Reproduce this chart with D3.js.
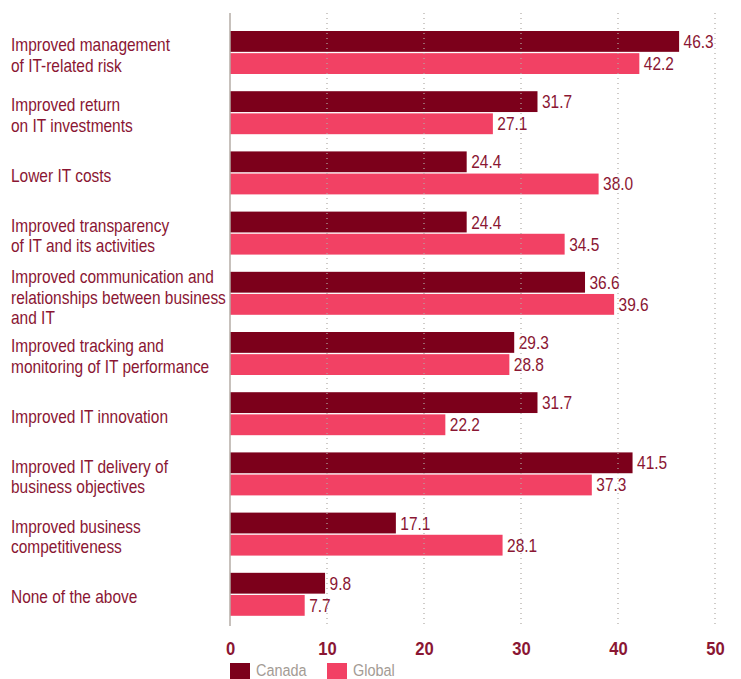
<!DOCTYPE html>
<html><head><meta charset="utf-8">
<script src="https://cdn.jsdelivr.net/npm/d3@7"></script>
<style>body{margin:0;background:#fff}svg{display:block}</style>
</head><body><svg id="c" width="741" height="679"></svg>
<script>
const categories = [
  ["Improved management","of IT-related risk"],
  ["Improved return","on IT investments"],
  ["Lower IT costs"],
  ["Improved transparency","of IT and its activities"],
  ["Improved communication and","relationships between business","and IT"],
  ["Improved tracking and","monitoring of IT performance"],
  ["Improved IT innovation"],
  ["Improved IT delivery of","business objectives"],
  ["Improved business","competitiveness"],
  ["None of the above"]
];
const seriesNames = ["Canada","Global"];
const canada = [46.3,31.7,24.4,24.4,36.6,29.3,31.7,41.5,17.1,9.8];
const global = [42.2,27.1,38.0,34.5,39.6,28.8,22.2,37.3,28.1,7.7];
const xTicks = [0,10,20,30,40,50];

const colors = {Canada:"#7c001b", Global:"#f24164"};
const textColor = "#8a1633";
const font = "'Liberation Sans',Arial,sans-serif";

const svg = d3.select("#c");
const x = d3.scaleLinear().domain([0,50]).range([230,715]);
const keys = categories.map((c,i)=>i);
const y = d3.scaleBand().domain(keys).range([22.4,624.4]).paddingInner(0.286).paddingOuter(0.143);
const ys = d3.scaleBand().domain(seriesNames).range([0,y.bandwidth()]).paddingInner(0.06);

const data = keys.map(i=>({i, vals:[{s:"Canada",v:canada[i]},{s:"Global",v:global[i]}]}));

const grp = svg.append("g").selectAll("g.grp").data(data).join("g").attr("transform",d=>`translate(0,${y(d.i)})`);
grp.selectAll("rect").data(d=>d.vals).join("rect")
  .attr("x",x(0)).attr("y",d=>ys(d.s)).attr("height",ys.bandwidth())
  .attr("width",d=>x(d.v)-x(0)).attr("fill",d=>colors[d.s]);
grp.selectAll("text.val").data(d=>d.vals).join("text").attr("class","val")
  .attr("transform",d=>`translate(${x(d.v)+4.5},${ys(d.s)+ys.bandwidth()/2}) scale(0.86,1)`)
  .attr("dy","0.36em")
  .attr("font-family",font).attr("font-size",18).attr("fill",textColor)
  .text(d=>d.v.toFixed(1));

// gridlines (over bars)
svg.append("g").selectAll("line").data(xTicks.slice(1)).join("line")
  .attr("x1",d=>x(d)).attr("x2",d=>x(d)).attr("y1",13).attr("y2",626)
  .attr("stroke","#b0aaa4").attr("stroke-width",1.2).attr("stroke-dasharray","1,4");

// axis line
svg.append("line").attr("x1",x(0)).attr("x2",x(0)).attr("y1",13).attr("y2",626)
  .attr("stroke","#b4aca6").attr("stroke-width",1.5);

// x axis labels
const xAxis = d3.axisBottom(x).tickValues(xTicks).tickSize(0).tickPadding(0);
const ax = svg.append("g").attr("transform","translate(0,655)").call(xAxis);
ax.select(".domain").remove();
ax.selectAll("text").attr("font-family",font).attr("font-size",17.5).attr("font-weight","bold")
  .attr("fill",textColor).attr("dy","0").attr("y",0).attr("transform","scale(0.95,1)");

// category labels
const lh = 20.5;
svg.append("g").attr("transform","translate(11,0) scale(0.86,1)")
  .selectAll("text").data(data).join("text")
  .attr("x",0).attr("font-family",font).attr("font-size",18).attr("fill",textColor)
  .each(function(d){
    const lines = categories[d.i];
    const cy = y(d.i)+y.bandwidth()/2 + (lines.length>2?4:2.5);
    const start = cy - (lines.length-1)*lh/2;
    d3.select(this).selectAll("tspan").data(lines).join("tspan")
      .attr("x",0).attr("y",(l,j)=>start+j*lh).attr("dy","0.36em").text(l=>l);
  });

// legend
const leg = svg.append("g").attr("transform","translate(230,663)");
const li = leg.selectAll("g").data(seriesNames).join("g").attr("transform",(d,i)=>`translate(${i*97},0)`);
li.append("rect").attr("width",20).attr("height",16).attr("fill",d=>colors[d]);
li.append("text").attr("transform","translate(26,13) scale(0.85,1)").attr("font-family",font)
  .attr("font-size",17).attr("fill","#a39b94").text(d=>d);
</script></body></html>
